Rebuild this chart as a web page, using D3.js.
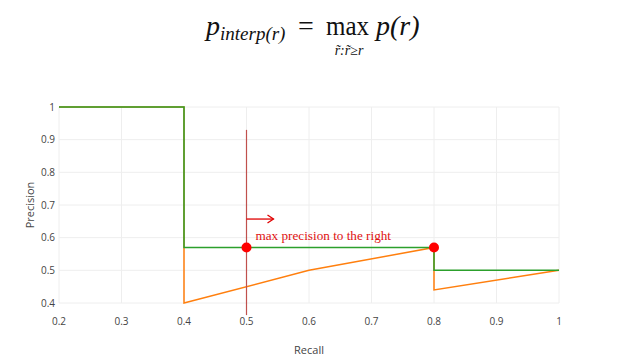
<!DOCTYPE html>
<html><head><meta charset="utf-8">
<script src="https://cdn.jsdelivr.net/npm/d3@7"></script>
<style>body{margin:0;background:#fff}</style>
</head><body>
<svg id="c" width="625" height="359"></svg>
<script>
const xTicks = [0.2,0.3,0.4,0.5,0.6,0.7,0.8,0.9,1];
const yTicks = [0.4,0.5,0.6,0.7,0.8,0.9,1];
const precisionRecall = [0.2,0.4,0.4,0.6,0.8,0.8,1];
const precisionValues = [1,1,0.4,0.5,0.57,0.44,0.5];
const interpRecall = [0.2,0.4,0.4,0.8,0.8,1];
const interpValues = [1,1,0.57,0.57,0.5,0.5];
const markerRecall = [0.5,0.8];
const markerValues = [0.57,0.57];
const guideRecall = [0.5,0.5];
const guideValues = [0.93,0.363];
const annotation = "max precision to the right";

const svg = d3.select("#c");
const x = d3.scaleLinear().domain([0.2,1]).range([59,559]);
const y = d3.scaleLinear().domain([0.4,1]).range([303,107]);

const g = svg.append("g");
g.selectAll(".vg").data(xTicks).join("line")
  .attr("x1",d=>x(d)).attr("x2",d=>x(d)).attr("y1",y(1)).attr("y2",y(0.4))
  .attr("stroke","#eeeeee").attr("stroke-width",1);
g.selectAll(".hg").data(yTicks).join("line")
  .attr("x1",x(0.2)).attr("x2",x(1)).attr("y1",d=>y(d)).attr("y2",d=>y(d))
  .attr("stroke","#eeeeee").attr("stroke-width",1);

const tf = "'Open Sans', sans-serif";
g.selectAll(".xt").data(xTicks).join("text")
  .attr("x",d=>x(d)).attr("y",325).attr("text-anchor","middle")
  .attr("font-family",tf).attr("font-size",10).attr("fill","#444")
  .text(d=>d3.format("")(d));
g.selectAll(".yt").data(yTicks).join("text")
  .attr("x",55).attr("y",d=>y(d)+3.5).attr("text-anchor","end")
  .attr("font-family",tf).attr("font-size",10).attr("fill","#444")
  .text(d=>d3.format("")(d));

svg.append("text").attr("x",309).attr("y",354).attr("text-anchor","middle")
  .attr("font-family",tf).attr("font-size",11).attr("fill","#444").text("Recall");
svg.append("text").attr("transform","translate(34,205) rotate(-90)").attr("text-anchor","middle")
  .attr("font-family",tf).attr("font-size",11).attr("fill","#444").text("Precision");

const line = d3.line().x(d=>x(d[0])).y(d=>y(d[1]));
g.append("path").datum(precisionRecall.map((r,i)=>[r,precisionValues[i]]))
  .attr("d",line).attr("fill","none").attr("stroke","#ff7f0e").attr("stroke-width",1.5);
g.append("path").datum(interpRecall.map((r,i)=>[r,interpValues[i]]))
  .attr("d",line).attr("fill","none").attr("stroke","#2ca02c").attr("stroke-width",1.5);

g.append("path").datum(guideRecall.map((r,i)=>[r,guideValues[i]]))
  .attr("d",line).attr("fill","none").attr("stroke","#c0504d").attr("stroke-width",1.2);

// arrow
const ay = y(0.657);
g.append("line").attr("x1",x(0.5)).attr("x2",x(0.5)+27).attr("y1",ay).attr("y2",ay)
  .attr("stroke","#e00000").attr("stroke-width",1.3);
g.append("path").attr("d",`M${x(0.5)+21},${ay-4}L${x(0.5)+27},${ay}L${x(0.5)+21},${ay+4}`)
  .attr("fill","none").attr("stroke","#e00000").attr("stroke-width",1.3);
g.append("text").attr("x",x(0.5)+9).attr("y",240).attr("font-family","'Liberation Serif', serif")
  .attr("font-size",13.2).attr("fill","#e01010").text(annotation);

g.selectAll(".m").data(markerRecall.map((r,i)=>[r,markerValues[i]])).join("circle")
  .attr("cx",d=>x(d[0])).attr("cy",d=>y(d[1])).attr("r",5).attr("fill","#ff0000");

// formula
const f = svg.append("g").attr("font-family","'Liberation Serif', serif").attr("fill","#111");
const t = f.append("text").attr("x",206).attr("y",35).attr("font-size",28);
t.append("tspan").attr("font-style","italic").text("p");
t.append("tspan").attr("font-style","italic").attr("font-size",19).attr("dy",5).text("interp(r)");
f.append("text").attr("x",298).attr("y",35).attr("font-size",28).text("=");
f.append("text").attr("x",326).attr("y",35).attr("font-size",28)
  .attr("textLength",43).attr("lengthAdjust","spacingAndGlyphs").text("max");
f.append("text").attr("x",349).attr("y",55).attr("font-size",14).attr("text-anchor","middle")
  .attr("font-style","italic").text("r̃:r̃≥r");
const t2 = f.append("text").attr("x",376).attr("y",35).attr("font-size",28).attr("font-style","italic");
t2.text("p(r)");
</script>
</body></html>
